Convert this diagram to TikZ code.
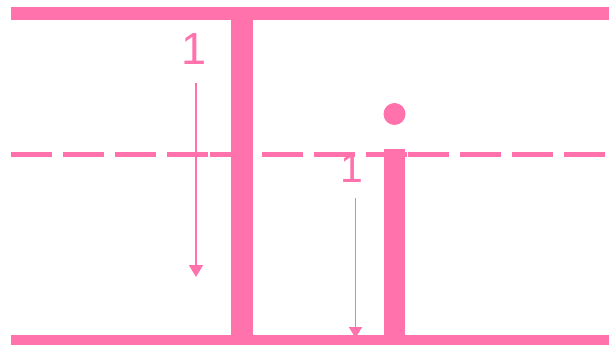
\documentclass[tikz,border=0pt]{standalone}
\usepackage{fontspec}
\setmainfont{Liberation Sans}
\usetikzlibrary{arrows.meta}
\definecolor{barpink}{RGB}{255,114,172}
\tikzset{
  bar/.style={fill=barpink,draw=none},
  guide/.style={draw=barpink,line width=5.5pt,dash pattern=on 41pt off 11pt},
  unit/.style={text=barpink,inner sep=0pt},
  measure/.style={draw=barpink,line width=1.8pt}
}
\begin{document}
\begin{tikzpicture}[x=1pt,y=-1pt,>={Triangle[width=14pt,length=12pt]}]
\useasboundingbox (0,0) rectangle (614,345);
% top and bottom lines
\fill[bar] (11,7) rectangle (609,20);
\fill[bar] (11,335) rectangle (609,348);
% middle line
\coordinate (G0) at (11,154.5);
\coordinate (G1) at (209.5,154.5);
\coordinate (G2) at (408,154.5);
\coordinate (G3) at (607,154.5);
\draw[guide] (G0)--(G1);
\draw[guide] (G1)--(G2);
\draw[guide] (G2)--(G3);
% tall stroke
\fill[bar] (231,20) rectangle (253,335);
% letter i
\fill[bar] (384,149) rectangle (405,335);
\fill[bar] (394.5,114) circle (11);

\node[unit,font=\fontsize{45}{50}\selectfont](U1) at (194,49){1};
\node[unit,font=\fontsize{41}{46}\selectfont](U2) at (352,168){1};
\coordinate (A1) at (196,83);
\coordinate (B1) at (196,277);
\coordinate (A2) at (355.5,198);
\coordinate (B2) at (355.5,338);
\draw[measure,->](A1)--(B1);
\draw[measure,->,>={Triangle[width=13pt,length=11pt]}](A2)--(B2);
\end{tikzpicture}
\end{document}
